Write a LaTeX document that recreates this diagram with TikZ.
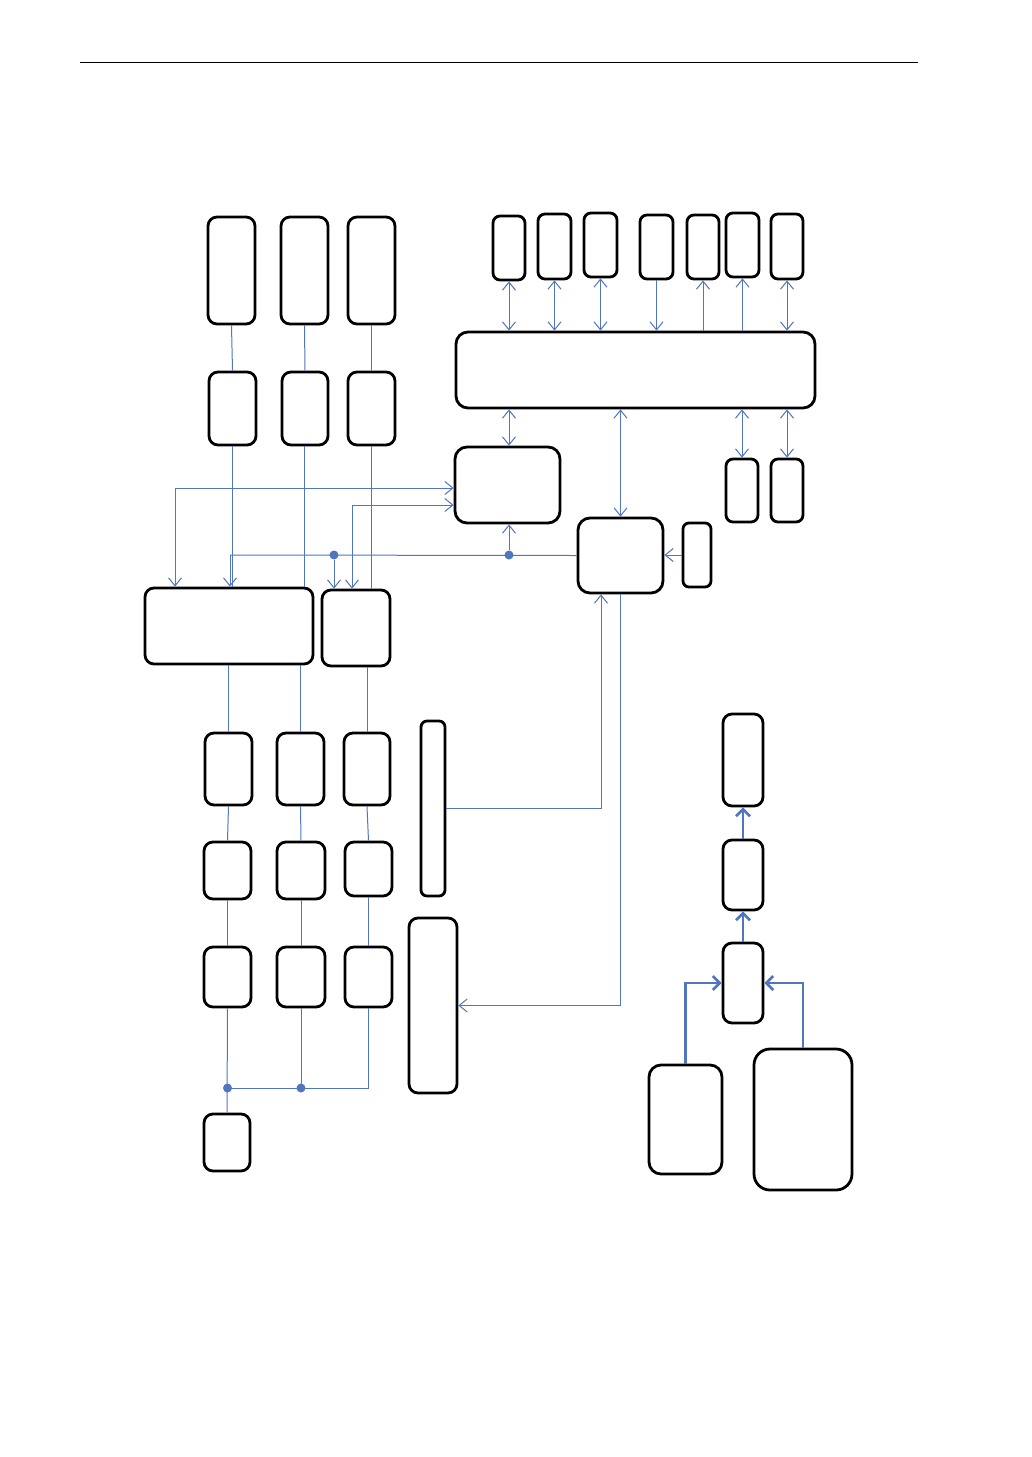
\documentclass[tikz,border=0pt]{standalone}
\usepackage{xcolor}
\usepackage{tikz}
\usetikzlibrary{arrows.meta}

\definecolor{linkblue}{RGB}{80,118,192}

\begin{document}
\begin{tikzpicture}[
  x=1pt, y=-1pt,
  box/.style={draw=black, line width=2.8pt, rounded corners=9pt,
              inner sep=0pt, fill=white},
  ln/.style={draw=linkblue, line width=1pt},
  arr/.style={ln, -{Straight Barb[length=8pt, width=13pt]}},
  dbl/.style={ln, {Straight Barb[length=8pt, width=13pt]}-{Straight Barb[length=8pt, width=13pt]}},
  thk/.style={draw=linkblue, line width=2.6pt, -{Straight Barb[length=7pt, width=14pt]}},
  dot/.style={circle, fill=linkblue, inner sep=0pt, minimum size=9pt},
]
\useasboundingbox (0,0) rectangle (1032,1457);
\fill[white] (-6,-6) rectangle (1038,1463);
\draw[line width=1pt] (80,62) -- (918,62);

% upper left columns
\node[box, minimum width=47pt, minimum height=107pt] (T1) at (231.5,270.5) {};
\node[box, minimum width=47pt, minimum height=107pt] (T2) at (304.5,270.5) {};
\node[box, minimum width=47pt, minimum height=107pt] (T3) at (371.5,270.5) {};
\node[box, minimum width=47pt, minimum height=73pt] (S1) at (232.5,408.5) {};
\node[box, minimum width=46pt, minimum height=73pt] (S2) at (305,408.5) {};
\node[box, minimum width=47pt, minimum height=73pt] (S3) at (371.5,408.5) {};
\node[box, minimum width=168pt, minimum height=76pt] (A) at (229,626) {};
\node[box, minimum width=68pt, minimum height=76pt] (B) at (356,628) {};

% central blocks
\node[box, minimum width=359pt, minimum height=76pt, rounded corners=12pt] (M) at (635.5,370) {};
\node[box, minimum width=105pt, minimum height=76pt, rounded corners=12pt] (C) at (507.5,485) {};
\node[box, minimum width=85pt, minimum height=75pt, rounded corners=12pt] (D) at (620.5,555.5) {};
\node[box, minimum width=28pt, minimum height=64pt, rounded corners=6pt] (E) at (697,555) {};

% top row around M
\node[box, minimum width=32pt, minimum height=64pt, rounded corners=7pt] (U1) at (509,248) {};
\node[box, minimum width=33pt, minimum height=65pt, rounded corners=7pt] (U2) at (554.5,246.5) {};
\node[box, minimum width=33pt, minimum height=64pt, rounded corners=7pt] (U3) at (600.5,245) {};
\node[box, minimum width=33pt, minimum height=64pt, rounded corners=7pt] (U4) at (656.5,247) {};
\node[box, minimum width=32pt, minimum height=64pt, rounded corners=7pt] (U5) at (703,247) {};
\node[box, minimum width=33pt, minimum height=64pt, rounded corners=7pt] (U6) at (742.5,245) {};
\node[box, minimum width=32pt, minimum height=65pt, rounded corners=7pt] (U7) at (787,246.5) {};
\node[box, minimum width=32pt, minimum height=63pt, rounded corners=7pt] (R1) at (742,490.5) {};
\node[box, minimum width=32pt, minimum height=63pt, rounded corners=7pt] (R2) at (787,490.5) {};

% lower left columns
\node[box, minimum width=47pt, minimum height=72pt] (P1) at (228.5,769) {};
\node[box, minimum width=47pt, minimum height=72pt] (P2) at (300.5,769) {};
\node[box, minimum width=46pt, minimum height=72pt] (P3) at (367,769) {};
\node[box, minimum width=47pt, minimum height=57pt] (Q1) at (227.5,870.5) {};
\node[box, minimum width=48pt, minimum height=57pt] (Q2) at (301,870.5) {};
\node[box, minimum width=47pt, minimum height=54pt] (Q3) at (368.5,869) {};
\node[box, minimum width=47pt, minimum height=60pt] (G1) at (227.5,977) {};
\node[box, minimum width=48pt, minimum height=60pt] (G2) at (301,977) {};
\node[box, minimum width=47pt, minimum height=60pt] (G3) at (368.5,977) {};
\node[box, minimum width=46pt, minimum height=57pt] (Z) at (227,1142.5) {};
\node[box, minimum width=24pt, minimum height=175pt, rounded corners=6pt] (L1) at (433,808.5) {};
\node[box, minimum width=48pt, minimum height=175pt] (L2) at (433,1005.5) {};

% lower right group
\node[box, minimum width=40pt, minimum height=92pt] (V1) at (743,760) {};
\node[box, minimum width=40pt, minimum height=70pt] (V2) at (743,875) {};
\node[box, minimum width=40pt, minimum height=80pt] (V3) at (743,983) {};
\node[box, minimum width=73pt, minimum height=109pt, rounded corners=12pt] (W1) at (685.5,1119.5) {};
\node[box, minimum width=98pt, minimum height=141pt, rounded corners=16pt] (W2) at (803,1119.5) {};

% connections
\coordinate (fbA) at (175,488);
\coordinate (fbB) at (352,505);
\coordinate (busL) at (230,555);
\coordinate (xS2) at (304,0);
\coordinate (bus2) at (0,1088);

\draw[ln] (T1.south) -- (S1.north);
\draw[ln] (T2.south) -- (S2.north);
\draw[ln] (T3.south) -- (S3.north);
\draw[ln] (S1.south) -- (S1.south |- A.north);
\draw[ln] (xS2 |- S2.south) -- (xS2 |- A.north);
\draw[ln] (S3.south) -- (S3.south |- B.north);

\draw[dbl] (C.west |- fbA) -- (fbA) -- (fbA |- A.north);
\draw[dbl] (C.west |- fbB) -- (fbB) -- (fbB |- B.north);
\draw[ln] (D.west) -- (busL);
\node[dot] (dB) at (334,555) {};
\node[dot] (dC) at (509,555) {};
\draw[arr] (busL) -- (busL |- A.north);
\draw[arr] (dB) -- (dB |- B.north);
\draw[arr] (dC) -- (dC |- C.south);

\draw[dbl] (U1.south) -- (U1.south |- M.north);
\draw[dbl] (U2.south) -- (U2.south |- M.north);
\draw[dbl] (U3.south) -- (U3.south |- M.north);
\draw[arr] (U4.south) -- (U4.south |- M.north);
\draw[arr] (U5.south |- M.north) -- (U5.south);
\draw[arr] (U6.south |- M.north) -- (U6.south);
\draw[dbl] (U7.south) -- (U7.south |- M.north);
\draw[dbl] (dC |- C.north) -- (dC |- M.south);
\draw[dbl] (D.north) -- (D.north |- M.south);
\draw[dbl] (R1.north) -- (R1.north |- M.south);
\draw[dbl] (R2.north) -- (R2.north |- M.south);
\draw[arr] (E.west) -- (E.west -| D.east);

\draw[arr] (L1.east) -| ([xshift=-19.5pt]D.south);
\draw[arr] (D.south) |- (L2.east);

\draw[ln] (P1.north |- A.south) -- (P1.north);
\draw[ln] (P2.north |- A.south) -- (P2.north);
\draw[ln] (P3.north |- B.south) -- (P3.north);
\draw[ln] (P1.south) -- (Q1.north);
\draw[ln] (P2.south) -- (Q2.north);
\draw[ln] (P3.south) -- (Q3.north);
\draw[ln] (Q1.south) -- (G1.north);
\draw[ln] (Q2.south) -- (G2.north);
\draw[ln] (Q3.south) -- (G3.north);
\draw[ln] (G1.south) -- (Z.north);
\draw[ln] (G2.south) -- (G2.south |- bus2);
\draw[ln] (G3.south) |- (G1.south |- bus2);
\node[dot] (j1) at (G1.south |- bus2) {};
\node[dot] (j2) at (G2.south |- bus2) {};

\draw[thk] (V3.north) -- (V2.south);
\draw[thk] (V2.north) -- (V1.south);
\draw[thk] (W1.north) |- (V3.west);
\draw[thk] (W2.north) |- (V3.east);
\end{tikzpicture}
\end{document}
